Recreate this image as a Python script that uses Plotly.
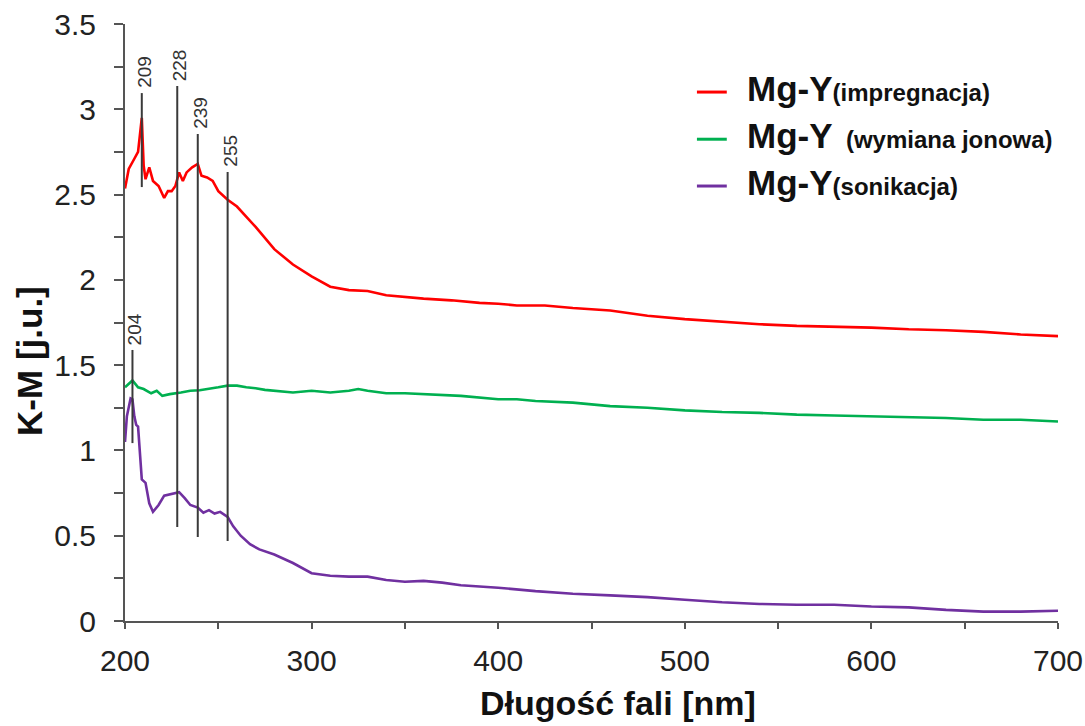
import plotly.graph_objects as go

# ---------------- data ----------------
wl_red = [200, 202, 205, 207, 209, 210, 211, 213, 215, 218, 221, 223, 225, 227, 229, 231, 233, 236, 239,
          241, 244, 247, 250, 255, 260, 265, 270, 280, 290, 300, 310, 320, 330, 340, 350, 360, 375, 390,
          400, 410, 425, 440, 460, 480, 500, 520, 540, 560, 580, 600, 620, 640, 660, 680, 700]
km_red = [2.535, 2.65, 2.71, 2.75, 2.95, 2.67, 2.59, 2.66, 2.58, 2.55, 2.48, 2.52, 2.52, 2.55, 2.63, 2.58,
          2.63, 2.66, 2.68, 2.61, 2.60, 2.58, 2.52, 2.47, 2.43, 2.37, 2.31, 2.18, 2.09, 2.02, 1.96, 1.94,
          1.935, 1.91, 1.90, 1.89, 1.88, 1.865, 1.86, 1.85, 1.85, 1.835, 1.82, 1.79, 1.77, 1.755, 1.74,
          1.73, 1.725, 1.72, 1.71, 1.705, 1.695, 1.68, 1.67]

wl_green = [200, 204, 207, 210, 214, 217, 220, 224, 230, 235, 240, 245, 250, 255, 260, 265, 270, 275, 280,
            290, 300, 310, 320, 325, 330, 340, 350, 360, 380, 400, 410, 420, 440, 460, 480, 500, 520, 540,
            560, 580, 600, 620, 640, 660, 680, 700]
km_green = [1.37, 1.41, 1.37, 1.36, 1.335, 1.35, 1.32, 1.33, 1.34, 1.35, 1.353, 1.36, 1.37, 1.38, 1.38,
            1.37, 1.365, 1.355, 1.35, 1.34, 1.35, 1.34, 1.35, 1.36, 1.35, 1.335, 1.335, 1.33, 1.32, 1.30,
            1.30, 1.29, 1.28, 1.26, 1.25, 1.235, 1.225, 1.22, 1.21, 1.205, 1.20, 1.195, 1.19, 1.18, 1.18, 1.17]

wl_purple = [200, 201, 203, 204, 205, 206, 207, 208, 209, 211, 213, 215, 218, 221, 225, 229, 232, 235, 239,
             242, 245, 248, 251, 255, 258, 262, 267, 272, 280, 290, 300, 310, 320, 330, 340, 350, 360, 370,
             380, 400, 420, 440, 460, 480, 500, 520, 540, 560, 580, 600, 620, 640, 660, 680, 700]
km_purple = [1.05, 1.20, 1.305, 1.30, 1.20, 1.15, 1.14, 1.005, 0.83, 0.81, 0.69, 0.64, 0.68, 0.735, 0.745,
             0.755, 0.72, 0.68, 0.665, 0.635, 0.65, 0.63, 0.64, 0.61, 0.555, 0.50, 0.45, 0.42, 0.39, 0.34,
             0.28, 0.265, 0.26, 0.26, 0.24, 0.23, 0.235, 0.225, 0.21, 0.195, 0.175, 0.16, 0.15, 0.14, 0.125,
             0.11, 0.10, 0.095, 0.095, 0.085, 0.08, 0.065, 0.055, 0.055, 0.06]

series_names = ["(impregnacja)", "&nbsp;&nbsp;(wymiana jonowa)", "(sonikacja)"]
series_colors = ["#ff0000", "#00b050", "#7030a0"]

peak_labels = ["204", "209", "228", "239", "255"]
peak_nm = [204, 209, 228, 239, 255]
peak_top = [1.589, 3.095, 3.136, 2.855, 2.632]
peak_bottom = [1.043, 2.544, 0.551, 0.492, 0.469]

x_ticks = [200, 300, 400, 500, 600, 700]
y_ticks = [0, 0.5, 1, 1.5, 2, 2.5, 3, 3.5]

FONT = "Liberation Sans, Arial, sans-serif"

# ---------------- figure ----------------
fig = go.Figure()
for wl, km, name, col in [(wl_red, km_red, series_names[0], series_colors[0]),
                          (wl_green, km_green, series_names[1], series_colors[1]),
                          (wl_purple, km_purple, series_names[2], series_colors[2])]:
    fig.add_trace(go.Scatter(x=wl, y=km, mode="lines", name="Mg-Y",
                             line=dict(color=col, width=2.6), showlegend=False))

# peak marker lines and labels
for lab, xp, yt, yb in zip(peak_labels, peak_nm, peak_top, peak_bottom):
    fig.add_shape(type="line", xref="x", yref="y", x0=xp, x1=xp, y0=yb, y1=yt,
                  line=dict(color="#3a3a3a", width=2))
    fig.add_annotation(x=xp, y=yt, xref="x", yref="y", text=lab, showarrow=False,
                       textangle=-90, xanchor="center", yanchor="bottom", xshift=2, yshift=3,
                       font=dict(family=FONT, size=19, color="#333333"))

# custom legend
leg_y = [0.886, 0.807, 0.7286]
for name, col, yy in zip(series_names, series_colors, leg_y):
    fig.add_shape(type="line", xref="paper", yref="paper", x0=0.613, x1=0.645, y0=yy, y1=yy,
                  line=dict(color=col, width=3))
    fig.add_annotation(xref="paper", yref="paper", x=0.6645, y=yy, xanchor="left", yanchor="middle",
                       showarrow=False, yshift=4,
                       text="<b>Mg-Y</b><b><span style='font-size:24px'>" + name + "</span></b>",
                       font=dict(family=FONT, size=35, color="#111111"))

# axis titles
fig.add_annotation(xref="paper", yref="paper", x=-0.103, y=0.4355, text="<b>K-M [j.u.]</b>",
                   textangle=-90, showarrow=False, xanchor="center", yanchor="middle",
                   font=dict(family=FONT, size=35, color="#111111"))
fig.add_annotation(xref="paper", yref="paper", x=0.528, y=-0.1375, text="<b>Długość fali [nm]</b>",
                   showarrow=False, xanchor="center", yanchor="middle",
                   font=dict(family=FONT, size=34, color="#111111"))

fig.update_layout(
    width=1085, height=726,
    margin=dict(l=125, r=27, t=24, b=105),
    paper_bgcolor="white", plot_bgcolor="white",
    showlegend=False,
    font=dict(family=FONT, size=30, color="#222222"),
    xaxis=dict(range=[200, 700], tickvals=x_ticks, ticks="outside", ticklen=6, tickwidth=1.5,
               tickcolor="#555555", showline=True, linecolor="#555555", linewidth=2,
               showgrid=False, zeroline=False, ticklabelstandoff=6, automargin=False,
               minor=dict(dtick=50, ticks="outside", ticklen=6, tickwidth=1.5, tickcolor="#555555"),
               tickfont=dict(size=30)),
    yaxis=dict(range=[0, 3.5], tickvals=y_ticks, ticks="outside", ticklen=9, tickwidth=1.5,
               tickcolor="#555555", showline=True, linecolor="#555555", linewidth=2,
               showgrid=False, zeroline=False, ticklabelstandoff=12, automargin=False,
               minor=dict(dtick=0.25, ticks="outside", ticklen=9, tickwidth=1.5, tickcolor="#555555"),
               tickfont=dict(size=30)),
)

fig.write_html("out.html")
